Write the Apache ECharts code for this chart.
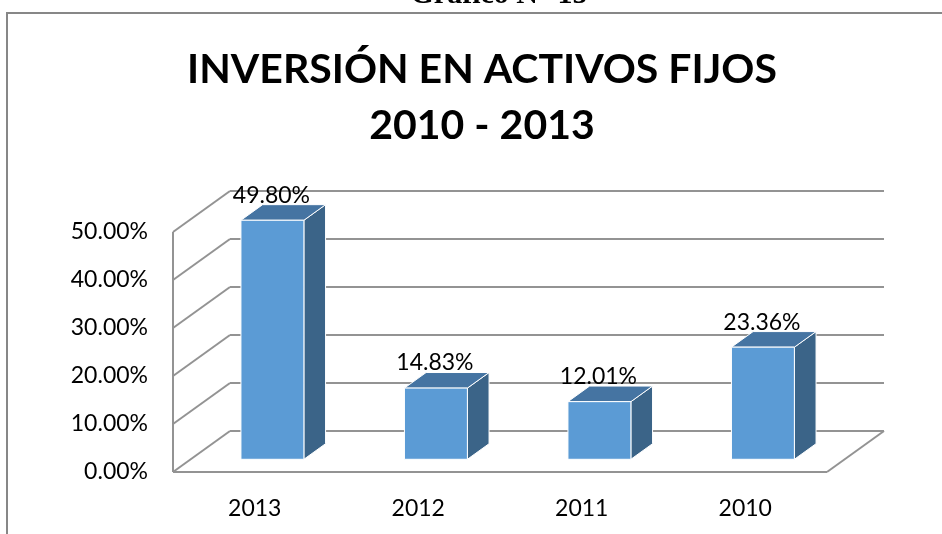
<!DOCTYPE html>
<html>
<head>
<meta charset="utf-8">
<script src="https://cdn.jsdelivr.net/npm/echarts@6/dist/echarts.min.js"></script>
<style>
html, body { margin: 0; padding: 0; background: #fff; }
#chart { width: 942px; height: 534px; }
</style>
</head>
<body>
<div id="chart"></div>
<script>
// datos
const years = ['2013', '2012', '2011', '2010']
const values = [49.80, 14.83, 12.01, 23.36]
const yTicks = [0, 10, 20, 30, 40, 50]

// perspectiva 3D aproximada (estilo Excel)
const depth = [57, -41]
const frontFrac = 0.31
const backFrac = 0.69
const barFrac = 0.385
const gridColor = '#939393'
const font = 'Lato, "Open Sans", sans-serif'

const chart = echarts.init(document.getElementById('chart'))

function renderWalls(params, api) {
  const cs = params.coordSys
  const x0 = cs.x
  const x1 = cs.x + cs.width
  const [dx, dy] = depth
  const line = (a, b, c, d) => ({
    type: 'line',
    shape: { x1: a, y1: b, x2: c, y2: d },
    style: { stroke: gridColor, lineWidth: 2 }
  })
  const yTop = api.coord([0, yTicks[yTicks.length - 1]])[1]
  const yBot = api.coord([0, 0])[1]
  const children = [line(x0, yTop, x0, yBot)]
  yTicks.forEach(v => {
    const y = api.coord([0, v])[1]
    children.push(line(x0, y, x0 + dx, y + dy))
    children.push(line(x0 + dx, y + dy, x1 + dx, y + dy))
  })
  children.push(line(x0, yBot, x1, yBot))
  children.push(line(x1, yBot, x1 + dx, yBot + dy))
  return { type: 'group', children }
}

function renderBar(params, api) {
  const i = api.value(0)
  const v = api.value(1)
  const top = api.coord([i, v])
  const base = api.coord([i, 0])
  const w = api.size([1, 0])[0] * barFrac
  const fx = depth[0] * frontFrac, fy = depth[1] * frontFrac
  const ddx = depth[0] * (backFrac - frontFrac), ddy = depth[1] * (backFrac - frontFrac)
  const l = base[0] - w / 2 + fx
  const r = base[0] + w / 2 + fx
  const yt = top[1] + fy
  const yb = base[1] + fy
  const edge = { stroke: '#ffffff', lineWidth: 1 }
  return {
    type: 'group',
    children: [
      { type: 'polygon', shape: { points: [[r, yt], [r + ddx, yt + ddy], [r + ddx, yb + ddy], [r, yb]] },
        style: Object.assign({ fill: '#3B6488' }, edge) },
      { type: 'polygon', shape: { points: [[l, yt], [r, yt], [r + ddx, yt + ddy], [l + ddx, yt + ddy]] },
        style: Object.assign({ fill: '#4574A2' }, edge) },
      { type: 'rect', shape: { x: l, y: yt, width: r - l, height: yb - yt },
        style: Object.assign({ fill: '#5B9BD5' }, edge) },
      { type: 'text', x: (l + r) / 2 - 1, y: yt + ddy + 2,
        style: { text: v.toFixed(2) + '%', fill: '#000', font: '23px ' + font, align: 'center', verticalAlign: 'bottom' } }
    ]
  }
}

chart.setOption({
  backgroundColor: '#fff',
  animation: false,
  grid: { left: 173, top: 232, width: 654, height: 240 },
  xAxis: {
    type: 'category',
    data: years,
    axisLine: { show: false },
    axisTick: { show: false },
    axisLabel: { margin: 25, fontSize: 23, fontFamily: font, color: '#000' }
  },
  yAxis: {
    type: 'value',
    min: 0,
    max: 50,
    interval: 10,
    splitLine: { show: false },
    axisLine: { show: false },
    axisTick: { show: false },
    axisLabel: { margin: 25, fontSize: 23, fontFamily: font, color: '#000', padding: [8, 0, 0, 0],
      formatter: v => v.toFixed(2) + '%' }
  },
  graphic: [
    { type: 'rect', shape: { x: 7, y: 13, width: 1000, height: 600 },
      style: { fill: 'none', stroke: '#878787', lineWidth: 2 } },
    { type: 'text', x: 499, y: -5,
      style: { text: 'Gráfico N° 15', font: 'bold 30px "Liberation Serif", serif', fill: '#000', align: 'center', verticalAlign: 'middle' } },
    { type: 'text', x: 482, y: 70,
      style: { text: 'INVERSIÓN EN ACTIVOS FIJOS', font: 'bold 41px ' + font, fill: '#000', align: 'center', verticalAlign: 'middle' } },
    { type: 'text', x: 482, y: 126,
      style: { text: '2010 - 2013', font: 'bold 41px ' + font, fill: '#000', align: 'center', verticalAlign: 'middle' } }
  ],
  series: [
    { type: 'custom', renderItem: renderWalls, data: [[0, 0]], silent: true, z: 1 },
    { type: 'custom', renderItem: renderBar, data: values.map((v, i) => [i, v]), z: 2 }
  ]
})
</script>
</body>
</html>
